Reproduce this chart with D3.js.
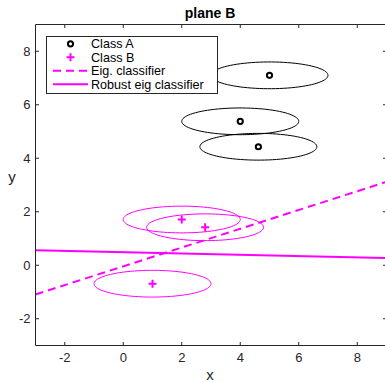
<!DOCTYPE html>
<html>
<head>
<meta charset="utf-8">
<script src="https://cdn.jsdelivr.net/npm/d3@7"></script>
<style>
  html, body { margin: 0; padding: 0; background: #fff; }
  svg { display: block; font-family: "Liberation Sans", Arial, Helvetica, sans-serif; }
</style>
</head>
<body>
<svg id="chart" width="385" height="382"></svg>
<script>
// Class A samples and their uncertainty ellipses
const classAX = [5.0, 4.0, 4.62];
const classAY = [7.1, 5.38, 4.43];
const classARx = [2.0, 2.0, 2.0];
const classARy = [0.5, 0.5, 0.5];

// Class B samples and their uncertainty ellipses
const classBX = [1.0, 2.0, 2.8];
const classBY = [-0.69, 1.71, 1.42];
const classBRx = [2.0, 2.0, 2.0];
const classBRy = [0.5, 0.5, 0.5];

// Decision boundaries: y = slope * x + intercept
const eigSlope = 0.351, eigIntercept = -0.04;
const robustSlope = -0.0242, robustIntercept = 0.487;

// Axis setup
const xDomain = [-3, 9], yDomain = [-3, 9];
const xTicks = [-2, 0, 2, 4, 6, 8];
const yTicks = [-2, 0, 2, 4, 6, 8];
const legendLabels = ["Class A", "Class B", "Eig. classifier", "Robust eig classifier"];

const MAGENTA = "#ff00ff";
const AXIS = "#262626";

const svg = d3.select("#chart");
const L = 35.5, R = 386.5, T = 24.5, B = 345.5;
const x = d3.scaleLinear().domain(xDomain).range([L, R]);
const y = d3.scaleLinear().domain(yDomain).range([B, T]);

const plot = svg.append("g");
svg.append("defs").append("clipPath").attr("id", "clip")
  .append("rect").attr("x", L).attr("y", T).attr("width", R - L).attr("height", B - T);
const clipped = plot.append("g").attr("clip-path", "url(#clip)");

// Ellipse outline in data coordinates
function ellipsePath(cx, cy, rx, ry) {
  const pts = d3.range(0, 361, 4).map(a => {
    const t = a * Math.PI / 180;
    return [cx + rx * Math.cos(t), cy + ry * Math.sin(t)];
  });
  return d3.line().x(d => x(d[0])).y(d => y(d[1]))(pts);
}

classAX.forEach((cx, i) => {
  clipped.append("path").attr("d", ellipsePath(cx, classAY[i], classARx[i], classARy[i]))
    .attr("fill", "none").attr("stroke", "#000").attr("stroke-width", 1);
});
classBX.forEach((cx, i) => {
  clipped.append("path").attr("d", ellipsePath(cx, classBY[i], classBRx[i], classBRy[i]))
    .attr("fill", "none").attr("stroke", MAGENTA).attr("stroke-width", 1);
});

// Classifier lines
const lineGen = d3.line().x(d => x(d[0])).y(d => y(d[1]));
const lineXs = xDomain;
clipped.append("path")
  .attr("d", lineGen(lineXs.map(v => [v, eigSlope * v + eigIntercept])))
  .attr("fill", "none").attr("stroke", MAGENTA).attr("stroke-width", 2)
  .attr("stroke-dasharray", "8,5");
clipped.append("path")
  .attr("d", lineGen(lineXs.map(v => [v, robustSlope * v + robustIntercept])))
  .attr("fill", "none").attr("stroke", MAGENTA).attr("stroke-width", 2);

// Markers
function circleMarker(g, px, py) {
  g.append("circle").attr("cx", px).attr("cy", py).attr("r", 2.6)
    .attr("fill", "none").attr("stroke", "#000").attr("stroke-width", 2);
}
function plusMarker(g, px, py) {
  const s = 4;
  g.append("path").attr("d", `M${px - s},${py}H${px + s}M${px},${py - s}V${py + s}`)
    .attr("stroke", MAGENTA).attr("stroke-width", 2).attr("fill", "none");
}
classAX.forEach((v, i) => circleMarker(clipped, x(v), y(classAY[i])));
classBX.forEach((v, i) => plusMarker(clipped, x(v), y(classBY[i])));

// Axes box with inward ticks on all four sides
const axG = svg.append("g");
const tickLen = 3.5;
axG.append("path")
  .attr("d", `M${L},${T}H${R}M${L},${B}H${R}M${L},${T}V${B}M${R},${T}V${B}`)
  .attr("stroke", AXIS).attr("stroke-width", 1).attr("fill", "none");
xTicks.forEach(v => {
  const px = x(v);
  axG.append("path").attr("d", `M${px},${B}V${B - tickLen}M${px},${T}V${T + tickLen}`)
    .attr("stroke", AXIS).attr("stroke-width", 1);
  axG.append("text").attr("x", px).attr("y", B + 16).attr("text-anchor", "middle")
    .attr("font-size", 13).attr("fill", AXIS).text(v);
});
yTicks.forEach(v => {
  const py = y(v);
  axG.append("path").attr("d", `M${L},${py}H${L + tickLen}M${R},${py}H${R - tickLen}`)
    .attr("stroke", AXIS).attr("stroke-width", 1);
  axG.append("text").attr("x", L - 5).attr("y", py + 4.5).attr("text-anchor", "end")
    .attr("font-size", 13).attr("fill", AXIS).text(v);
});

// Labels and title
svg.append("text").attr("x", 210).attr("y", 380).attr("text-anchor", "middle")
  .attr("font-size", 15).attr("fill", AXIS).text("x");
svg.append("text").attr("x", 12).attr("y", 182).attr("text-anchor", "middle")
  .attr("font-size", 15).attr("fill", AXIS).text("y");
svg.append("text").attr("x", 210).attr("y", 18).attr("text-anchor", "middle")
  .attr("font-size", 14).attr("font-weight", "bold").attr("fill", "#000").text("plane B");

// Legend
const lg = svg.append("g");
const lgX = 46.5, lgY = 36.5, lgW = 171, lgH = 57;
lg.append("rect").attr("x", lgX).attr("y", lgY).attr("width", lgW).attr("height", lgH)
  .attr("fill", "#fff").attr("stroke", AXIS).attr("stroke-width", 1);
const rowY = [43.8, 57.3, 70.8, 84.3];
const symX0 = 53, symX1 = 88, symCx = (53 + 88) / 2;
legendLabels.forEach((lab, i) => {
  lg.append("text").attr("x", 91).attr("y", rowY[i] + 4.3).attr("font-size", 12.6)
    .attr("fill", "#000").text(lab);
});
circleMarker(lg, symCx, rowY[0]);
plusMarker(lg, symCx, rowY[1]);
lg.append("path").attr("d", `M${symX0},${rowY[2]}H${symX1}`)
  .attr("stroke", MAGENTA).attr("stroke-width", 2).attr("stroke-dasharray", "8,5");
lg.append("path").attr("d", `M${symX0},${rowY[3]}H${symX1}`)
  .attr("stroke", MAGENTA).attr("stroke-width", 2);
</script>
</body>
</html>
